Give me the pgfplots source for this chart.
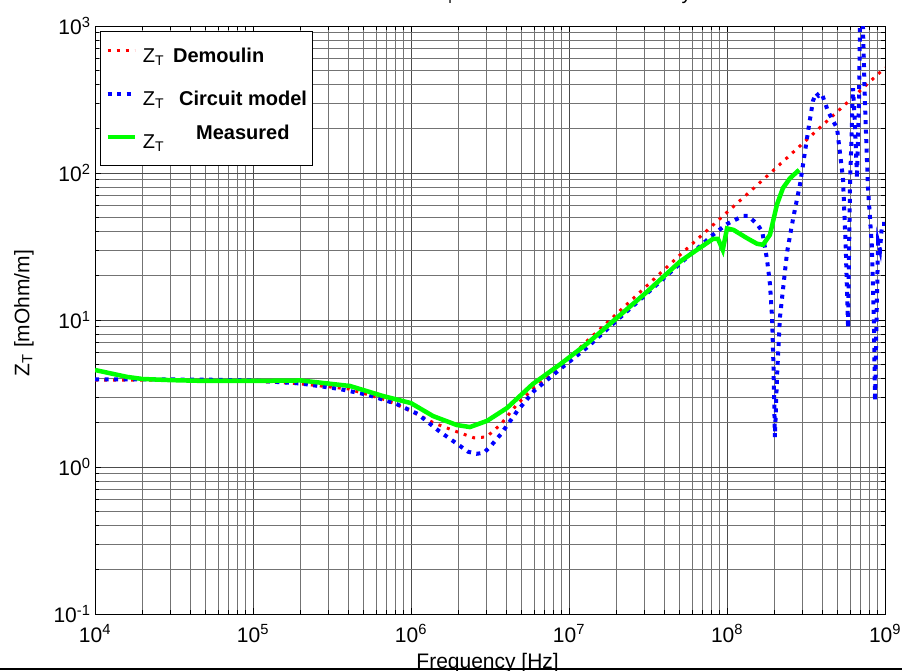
\documentclass[border=0pt]{standalone}
\usepackage{pgfplots}
\pgfplotsset{compat=1.18}
\usepackage{fontspec}
\setmainfont{Liberation Sans}
\begin{document}
\begin{tikzpicture}
\useasboundingbox (-95pt,-56pt) rectangle (807pt,614pt);
\begin{axis}[
  scale only axis,
  width=790pt, height=588pt,
  xmode=log, ymode=log,
  xmin=1e4, xmax=1e9, ymin=0.1, ymax=1000,
  xtick={1e4,1e5,1e6,1e7,1e8,1e9},
  xticklabels={10\textsuperscript{4},10\textsuperscript{5},10\textsuperscript{6},10\textsuperscript{7},10\textsuperscript{8},10\textsuperscript{9}},
  ytick={0.1,1,10,100,1000},
  yticklabels={10\textsuperscript{-1},10\textsuperscript{0},10\textsuperscript{1},10\textsuperscript{2},10\textsuperscript{3}},
  tick label style={font=\fontsize{21}{24}\selectfont},
  xticklabel style={yshift=-7pt},
  yticklabel style={xshift=-1pt},
  grid=both,
  major grid style={black!70, line width=0.8pt},
  minor grid style={black!55, line width=0.7pt},
  tick align=inside,
  major tick length=6pt, minor tick length=4pt,
  tick style={black, line width=0.6pt},
  axis line style={black, line width=0.8pt},
  xlabel={Frequency [Hz]},
  xlabel style={overlay, font=\fontsize{21}{24}\selectfont, at={(axis description cs:0.497,0)}, anchor=base, yshift=-54pt},
  ylabel={Z\textsubscript{T} [mOhm/m]},
  ylabel style={font=\fontsize{21}{24}\selectfont, at={(axis description cs:-0.09,0.512)}, anchor=center},
  legend cell align=left,
  legend style={at={(axis description cs:0.0063,0.9915)}, anchor=north west,
    draw=black, line width=0.8pt, fill=white,
    font=\fontsize{20}{24}\selectfont,
    row sep=17pt, inner xsep=5pt, inner ysep=11pt,
    nodes={inner sep=0pt, text height=20pt, text depth=6pt},
    /tikz/every odd column/.append style={column sep=6pt}},
  legend image code/.code={\draw[#1] (0pt,4.5pt) -- (27pt,4.5pt);},
]
\addplot[red, line width=3pt, dash pattern=on 3pt off 6pt] coordinates {
(1e4,3.9) (2e4,3.9) (5e4,3.88) (1e5,3.85) (2e5,3.68) (4e5,3.4) (7e5,2.85) (1e6,2.4)
(1.4e6,1.99) (2e6,1.72) (2.5e6,1.58) (3e6,1.6) (3.7e6,1.95) (4.7e6,2.68) (6e6,3.45)
(8.8e6,4.8) (1.3e7,7.2) (2e7,11) (3e7,16.5) (5e7,27.5) (1e8,54) (2e8,106) (5e8,262) (1e9,520)
};
\addlegendentry{Z\textsubscript{T}\hspace{9pt}\textbf{Demoulin}}
\addplot[blue, line width=4pt, dash pattern=on 4pt off 5.5pt] coordinates {
(1e4,3.95) (2e4,3.95) (5e4,3.93) (1e5,3.88) (2e5,3.7) (3.5e5,3.4) (5.3e5,3.1) (8e5,2.7)
(1.1e6,2.3) (1.5e6,1.76) (1.85e6,1.5) (2.3e6,1.27) (2.6e6,1.23) (2.9e6,1.25) (3.2e6,1.39)
(3.7e6,1.67) (4.7e6,2.4) (6e6,3.29) (8.8e6,4.64) (1.3e7,6.5) (2e7,9.9) (3e7,14.6) (5e7,24)
(8.15e7,38) (1e8,45) (1.26e8,51) (1.36e8,51) (1.55e8,45) (1.67e8,40) (1.79e8,26) (1.87e8,17.6)
(1.93e8,10.3) (1.97e8,4.7) (2.01e8,1.6) (2.07e8,4) (2.16e8,10.3) (2.4e8,29) (2.62e8,49)
(2.9e8,84) (3.26e8,193) (3.5e8,309) (3.66e8,350) (3.8e8,335) (3.99e8,345) (4.35e8,264) (4.69e8,226)
(4.97e8,202) (5.42e8,92) (5.65e8,30) (5.83e8,8.8) (6.0e8,79) (6.27e8,378) (6.45e8,220)
(6.65e8,92) (6.85e8,320) (6.95e8,1100) (7.1e8,1500) (7.25e8,1000) (7.47e8,294) (7.8e8,79)
(8.27e8,31) (8.5e8,10) (8.65e8,2.8) (8.8e8,8) (9.04e8,34) (9.3e8,30) (9.57e8,45) (1e9,45)
};
\addlegendentry{Z\textsubscript{T}\hspace{15pt}\textbf{Circuit model}\hspace{7pt}}
\addplot[green, line width=4.5pt] coordinates {
(1e4,4.57) (1.3e4,4.3) (1.6e4,4.1) (2e4,3.97) (3e4,3.9) (5e4,3.85) (1e5,3.85) (2e5,3.88)
(4.1e5,3.56) (6.65e5,3.04) (1e6,2.72) (1.38e6,2.22) (1.95e6,1.93) (2.36e6,1.87) (3.03e6,2.06)
(4.05e6,2.52) (5.9e6,3.67) (8.8e6,5.0) (1.3e7,6.9) (2e7,10.3) (3e7,15) (5.05e7,25) (6.45e7,30)
(8.15e7,35.6) (8.77e7,35.6) (9.4e7,30) (1.0e8,42) (1.1e8,41) (1.34e8,36) (1.55e8,33)
(1.69e8,32.5) (1.87e8,38) (2.07e8,61) (2.26e8,79) (2.5e8,92) (2.86e8,105)
};
\addlegendentry{Z\textsubscript{T}\hspace{32pt}\raisebox{9pt}{\textbf{Measured}}}
\end{axis}
\node[overlay, anchor=base west, font=\fontsize{20}{24}\selectfont] at (115pt,614pt) {Measured and modelled Z\textsubscript{T} of the test cable assembly};
\draw[overlay, black, line width=2pt] (-95pt,-55pt) -- (807pt,-55pt);
\end{tikzpicture}
\end{document}
